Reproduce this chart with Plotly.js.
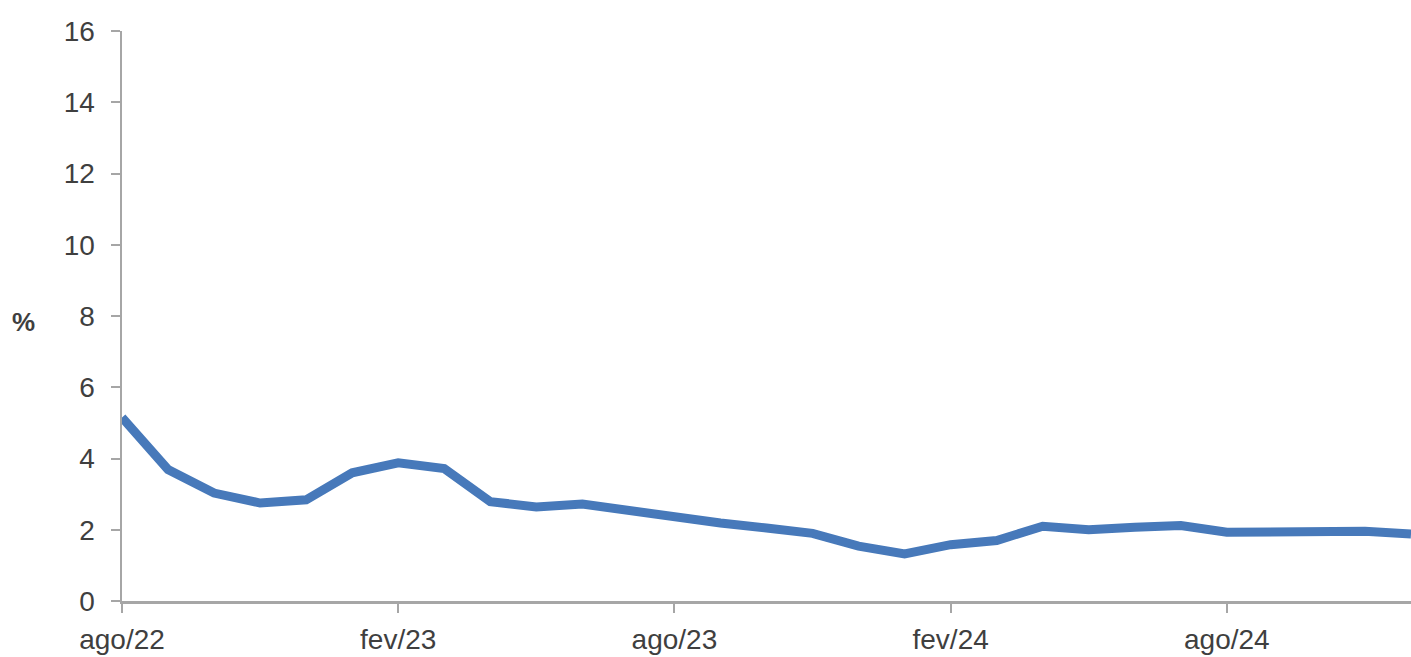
<!DOCTYPE html>
<html>
<head>
<meta charset="utf-8">
<script src="https://cdn.plot.ly/plotly-3.0.1.min.js"></script>
<style>
html,body{margin:0;padding:0;background:#fff;}
#chart{width:1411px;height:657px;}
</style>
</head>
<body>
<div id="chart"></div>
<script>
const months = ['ago/22','set/22','out/22','nov/22','dez/22','jan/23','fev/23','mar/23','abr/23','mai/23','jun/23','jul/23',
  'ago/23','set/23','out/23','nov/23','dez/23','jan/24','fev/24','mar/24','abr/24','mai/24','jun/24','jul/24',
  'ago/24','set/24','out/24','nov/24','dez/24'];
const values = [5.15, 3.69, 3.03, 2.75, 2.84, 3.6, 3.88, 3.72, 2.79, 2.64, 2.72, 2.53,
  2.33, 2.19, 2.05, 1.9, 1.54, 1.32, 1.58, 1.7, 2.1, 2.0, 2.07, 2.12,
  1.93, 1.93, 1.91, 1.96, 1.88];
const xTicks = ['ago/22','fev/23','ago/23','fev/24','ago/24'];
const yTicks = [0,2,4,6,8,10,12,14,16];
const yLabel = '<b>%</b>';

const textColor = '#3f3f3f';
const axisColor = '#a6a6a6';
const fontFamily = 'Liberation Sans, Arial, sans-serif';
const fontSize = 28;

const trace = {
  x: months,
  y: values,
  type: 'scatter',
  mode: 'lines',
  line: {color: '#4779ba', width: 9},
  cliponaxis: false,
  hoverinfo: 'skip'
};

const layout = {
  width: 1411,
  height: 657,
  margin: {l: 122, r: 0, t: 31, b: 56},
  paper_bgcolor: '#ffffff',
  plot_bgcolor: '#ffffff',
  showlegend: false,
  font: {family: fontFamily, size: fontSize, color: textColor},
  xaxis: {
    type: 'category',
    categoryarray: months,
    range: [0, months.length - 1],
    tickmode: 'array',
    tickvals: xTicks,
    ticktext: xTicks,
    ticks: 'outside',
    ticklen: 9,
    tickwidth: 2,
    tickcolor: axisColor,
    showline: true,
    linecolor: axisColor,
    linewidth: 2.5,
    showgrid: false,
    zeroline: false,
    ticklabelstandoff: 3,
    tickfont: {family: fontFamily, size: fontSize, color: textColor}
  },
  yaxis: {
    range: [0, 16],
    tickmode: 'array',
    tickvals: yTicks,
    ticktext: yTicks.map(String),
    ticks: 'outside',
    ticklen: 9,
    tickwidth: 2,
    tickcolor: axisColor,
    showline: true,
    linecolor: axisColor,
    linewidth: 2.5,
    showgrid: false,
    zeroline: false,
    ticklabelstandoff: 10,
    tickfont: {family: fontFamily, size: fontSize, color: textColor}
  },
  annotations: [{
    text: yLabel,
    xref: 'paper', yref: 'paper',
    x: -0.087, y: 0.49,
    xanchor: 'left', yanchor: 'middle',
    showarrow: false,
    font: {family: fontFamily, size: 26, color: textColor}
  }]
};

Plotly.newPlot('chart', [trace], layout, {displayModeBar: false, staticPlot: true});
</script>
</body>
</html>
